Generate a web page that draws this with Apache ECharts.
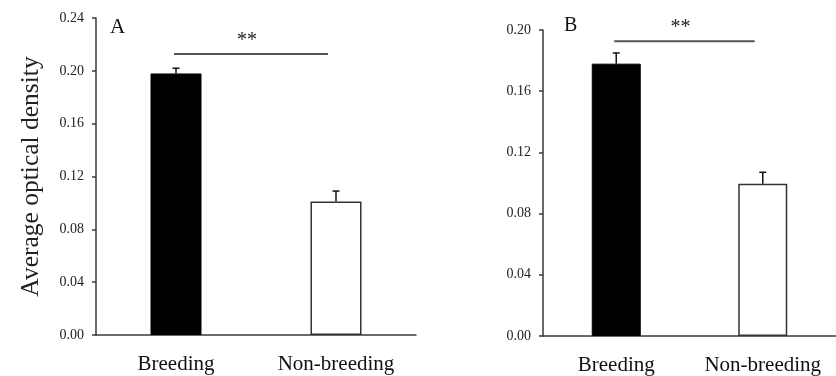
<!DOCTYPE html>
<html>
<head>
<meta charset="utf-8">
<script src="https://cdn.jsdelivr.net/npm/echarts@6/dist/echarts.min.js"></script>
<style>
html,body{margin:0;padding:0;background:#fff;}
#chart{width:836px;height:376px;}
</style>
</head>
<body>
<div id="chart"></div>
<script>
// ---- data ----
const categories = ['Breeding', 'Non-breeding'];
const meansA = [0.198, 0.101];
const errA = [0.004, 0.008];
const meansB = [0.178, 0.0995];
const errB = [0.007, 0.0075];
const sigA = 0.2127;   // significance bracket level (panel A)
const sigB = 0.1927;   // significance bracket level (panel B)
const sigText = '**';
const panelLabels = ['A', 'B'];
const yTicksA = [0, 0.04, 0.08, 0.12, 0.16, 0.20, 0.24];
const yTicksB = [0, 0.04, 0.08, 0.12, 0.16, 0.20];
const yName = 'Average optical density';

const FONT = '"Liberation Serif", "Times New Roman", serif';
const AXIS = '#3a3a3a';

function barData(means) {
  return means.map((v, i) => i === 0
    ? { value: v, itemStyle: { color: '#000', borderColor: '#000', borderWidth: 1 } }
    : { value: v, itemStyle: { color: '#fff', borderColor: '#333', borderWidth: 1.5 } });
}
function errData(means, errs) {
  return means.map((v, i) => [i, v, errs[i]]);
}
function errRender(params, api) {
  const i = api.value(0), v = api.value(1), e = api.value(2);
  const base = api.coord([i, v]);
  const top = api.coord([i, v + e]);
  return {
    type: 'group',
    children: [
      { type: 'line', shape: { x1: base[0], y1: base[1], x2: top[0], y2: top[1] },
        style: { stroke: '#111', lineWidth: 1.5 } },
      { type: 'line', shape: { x1: top[0] - 3.5, y1: top[1], x2: top[0] + 3.5, y2: top[1] },
        style: { stroke: '#111', lineWidth: 1.5 } }
    ]
  };
}
function sigRender(params, api) {
  const y = api.value(2);
  const p0 = api.coord([api.value(0), y]);
  const p1 = api.coord([api.value(1), y]);
  const x2 = p1[0] - 8;
  return {
    type: 'group',
    children: [
      { type: 'line', shape: { x1: p0[0] - 2, y1: p0[1], x2: x2, y2: p1[1] },
        style: { stroke: '#555', lineWidth: 2 } },
      { type: 'text', style: { x: (p0[0] + x2) / 2 - 5, y: p0[1] - 13, text: sigText,
        font: '20px ' + FONT, fill: '#222', align: 'center', verticalAlign: 'middle' } }
    ]
  };
}
function yAxisCfg(gridIndex, ticks, withName) {
  const cfg = {
    type: 'value', gridIndex: gridIndex,
    min: ticks[0], max: ticks[ticks.length - 1], interval: ticks[1] - ticks[0],
    axisLine: { show: true, lineStyle: { color: AXIS, width: 1.5 } },
    axisTick: { show: true, length: 4, lineStyle: { color: AXIS, width: 1.5 } },
    axisLabel: { fontFamily: FONT, fontSize: 14, color: '#222', margin: 12,
      formatter: v => v.toFixed(2) },
    splitLine: { show: false }
  };
  if (withName) {
    Object.assign(cfg, {
      name: yName, nameLocation: 'middle', nameGap: 52,
      nameTextStyle: { fontFamily: FONT, fontSize: 25.5, color: '#222' }
    });
  }
  return cfg;
}
function xAxisCfg(gridIndex) {
  return {
    type: 'category', gridIndex: gridIndex, data: categories,
    axisLine: { show: true, lineStyle: { color: AXIS, width: 1.5 } },
    axisTick: { show: false },
    axisLabel: { fontFamily: FONT, fontSize: 21, color: '#111', margin: 19, interval: 0, hideOverlap: false }
  };
}

const chart = echarts.init(document.getElementById('chart'), null, { renderer: 'canvas' });
chart.setOption({
  animation: false,
  backgroundColor: '#fff',
  title: [
    { text: panelLabels[0], left: 105, top: 12, textStyle: { fontFamily: FONT, fontSize: 21, fontWeight: 'normal', color: '#111' } },
    { text: panelLabels[1], left: 559, top: 11, textStyle: { fontFamily: FONT, fontSize: 20, fontWeight: 'normal', color: '#111' } }
  ],
  grid: [
    { left: 96, top: 18, width: 320, height: 317 },
    { left: 543, top: 30, width: 311, height: 308 }
  ],
  xAxis: [xAxisCfg(0), xAxisCfg(1)],
  yAxis: [yAxisCfg(0, yTicksA, true), yAxisCfg(1, yTicksB, false)],
  series: [
    { type: 'bar', xAxisIndex: 0, yAxisIndex: 0, barWidth: 51, data: barData(meansA) },
    { type: 'bar', xAxisIndex: 1, yAxisIndex: 1, barWidth: 49, data: barData(meansB) },
    { type: 'custom', xAxisIndex: 0, yAxisIndex: 0, renderItem: errRender, data: errData(meansA, errA), z: 3 },
    { type: 'custom', xAxisIndex: 1, yAxisIndex: 1, renderItem: errRender, data: errData(meansB, errB), z: 3 },
    { type: 'custom', xAxisIndex: 0, yAxisIndex: 0, renderItem: sigRender, data: [[0, 1, sigA]], z: 3 },
    { type: 'custom', xAxisIndex: 1, yAxisIndex: 1, renderItem: sigRender, data: [[0, 1, sigB]], z: 3 }
  ]
});
</script>
</body>
</html>
